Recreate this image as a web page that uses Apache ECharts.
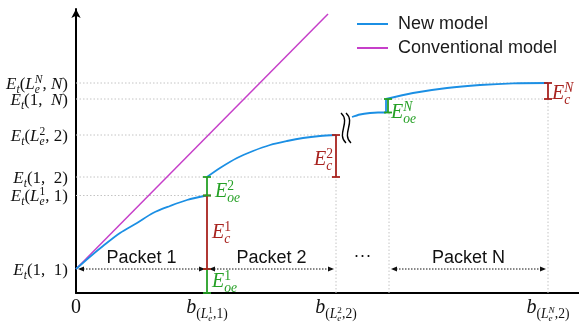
<!DOCTYPE html>
<html><head><meta charset="utf-8">
<script src="https://cdn.jsdelivr.net/npm/echarts@6/dist/echarts.min.js"></script>
<style>html,body{margin:0;padding:0;background:#fff}#c{width:579px;height:325px}</style>
</head><body><div id="c"></div>
<script>
// ---------------- data (abstract units) ----------------
const newModelPacket1   = [[0,24],[14,36.3],[27,47],[44,60],[61,70],[77,80],[94,87],[111,93],[131,97.5]];
const newModelPacket2   = [[131,116],[144,125],[161,135],[177,142],[194,148],[211,152],[227,155],[244,157],[260,158]];
const newModelAfterBreak= [[276,176],[284,178.5],[294,180],[302,180.5],[310,180.5]];
const newModelStep      = [[310,180.5],[310,194]];
const newModelPacketN   = [[310,194],[337,200],[371,205],[404,208],[437,209.7],[472,210]];
const conventionalModel = [[0,24],[252,279]];

const yTickValues = [24, 97.5, 116, 158, 194, 210];
const yTickLabels = ['E_{t}(1,  1)','E_{t}(L_{e}^{1}, 1)','E_{t}(1,  2)','E_{t}(L_{e}^{2}, 2)','E_{t}(1,  N)','E_{t}(L_{e}^{N}, N)'];
const xTickValues = [0, 131, 260, 472];
const xTickLabels = ['0','b_{(L_{e}^{1},1)}','b_{(L_{e}^{2},2)}','b_{(L_{e}^{N},2)}'];

// energy bars: [x, from, to]
const energyBars   = [[131,0,24],[131,24,97.5],[131,97.5,116],[260,116,158],[312,180.5,194],[472,194,210]];
const energyLabels = ['E_{oe}^{1}','E_{c}^{1}','E_{oe}^{2}','E_{c}^{2}','E_{oe}^{N}','E_{c}^{N}'];
const energyKinds  = ['oe','c','oe','c','oe','c'];

const packetSpans = [[0,131],[131,260],[313,472]];
const packetNames = ['Packet 1','Packet 2','Packet N'];
const packetLevel = 24;
const gapMarker = '···';

const guidesH = [[97.5,131],[116,260],[158,260],[194,472],[210,472]]; // [y, xEnd]
const guidesV = [[260,116],[313,180.5],[472,194]];                   // [x, yEnd]
const axisBreak = [270.5, 165];

// ---------------- styles ----------------
const C = {blue:'#1b8fe4', magenta:'#c63fc9', red:'#a8231f', green:'#25a025', guide:'#c4c4c4', ink:'#111'};
const SERIF = '"Liberation Serif", "Times New Roman", serif';
const SANS = '"Liberation Sans", Arial, sans-serif';
// label placement for energy bars: [align, dx, dy(baseline from bar mid)]
const energyLabelPlace = [['left',5,6],['left',5,6],['left',8,11],['right',-3,9],['left',3,12],['left',4,8]];

const ctx = document.createElement('canvas').getContext('2d');
function fontStr(size,it,fam){return (it?'italic ':'')+size+'px '+fam;}
function measure(t,size,it){ctx.font=fontStr(size,it,SERIF); return ctx.measureText(t).width;}
function baseK(fam){
  ctx.font='100px '+fam; ctx.textBaseline='alphabetic';
  const a=ctx.measureText('H').actualBoundingBoxAscent;
  ctx.textBaseline='middle';
  const b=ctx.measureText('H').actualBoundingBoxAscent;
  ctx.textBaseline='alphabetic';
  return (a-b)/100;
}
const K_SERIF = baseK(SERIF), K_SANS = baseK(SANS);

function parseMath(s){
  let i=0;
  function seq(stop){
    const out=[];
    while(i<s.length && s[i]!==stop){
      const ch=s[i];
      if(ch==='_'||ch==='^'){
        i++; let g;
        if(s[i]==='{'){ i++; g=seq('}'); i++; } else { g=[{t:s[i++]}]; }
        const last=out[out.length-1];
        if(ch==='_') last.sub=g; else last.sup=g;
      } else { out.push({t:ch}); i++; }
    }
    return out;
  }
  return seq(null);
}
function layoutMath(nodes,size,x,dy,out){
  const x0=x;
  for(const n of nodes){
    const it=/[A-Za-z]/.test(n.t);
    out.push({t:n.t,x:x,dy:dy,size:size,it:it});
    x+=measure(n.t,size,it);
    if(n.sub||n.sup){
      const ss=size*0.68; let w=0;
      if(n.sub) w=Math.max(w,layoutMath(n.sub,ss,x,dy+size*0.25,out));
      if(n.sup) w=Math.max(w,layoutMath(n.sup,ss,x,dy-size*0.34,out));
      x+=w;
    }
  }
  return x-x0;
}
function mathEls(str,size,anchorX,baseY,align,color){
  const g=[]; const w=layoutMath(parseMath(str),size,0,0,g);
  const left = align==='right'? anchorX-w : (align==='center'? anchorX-w/2 : anchorX);
  return g.filter(q=>q.t!==' ').map(q=>({type:'text',style:{text:q.t,x:left+q.x,y:baseY+q.dy-K_SERIF*q.size,
    fontSize:q.size,fontFamily:SERIF,fontStyle:q.it?'italic':'normal',fill:color,align:'left',verticalAlign:'middle'}}));
}

const blueLine = {type:'line',name:'New model',symbol:'none',showSymbol:false,smooth:0.3,
  lineStyle:{color:C.blue,width:1.8},itemStyle:{color:C.blue},z:3,silent:true};

const option = {
  animation:false,
  grid:{left:76,right:0,top:9,bottom:32},
  xAxis:{type:'value',min:0,max:503,axisLine:{lineStyle:{color:'#000',width:2}},axisTick:{show:false},axisLabel:{show:false},splitLine:{show:false}},
  yAxis:{type:'value',min:0,max:284,axisLine:{show:true,symbol:['none','arrow'],symbolSize:[7,9],lineStyle:{color:'#000',width:2}},axisTick:{show:false},axisLabel:{show:false},splitLine:{show:false}},
  legend:{orient:'vertical',left:352,top:10,icon:'rect',itemWidth:31,itemHeight:2,itemGap:6,selectedMode:false,
    textStyle:{fontFamily:SANS,fontSize:18,color:'#1a1a1a',padding:[0,0,0,5]},data:['New model','Conventional model']},
  series:[
    {type:'custom',name:'guides',clip:false,z:1,silent:true,
      data:guidesH.map(g=>[0,g[0],g[1],0]).concat(guidesV.map(g=>[g[0],0,g[0],g[1]])),
      renderItem:(p,api)=>{
        const a=api.coord([api.value(0),api.value(1)]);
        const b=api.coord([api.value(2), p.dataIndex<guidesH.length? api.value(1): api.value(3)]);
        return {type:'line',shape:{x1:a[0],y1:a[1],x2:b[0],y2:b[1]},style:{stroke:C.guide,lineWidth:1,lineDash:[1.5,2]}};
      }},
    {type:'line',name:'Conventional model',data:conventionalModel,symbol:'none',showSymbol:false,
      lineStyle:{color:C.magenta,width:1.5},itemStyle:{color:C.magenta},z:3,silent:true},
    Object.assign({},blueLine,{data:newModelPacket1}),
    Object.assign({},blueLine,{data:newModelPacket2}),
    Object.assign({},blueLine,{data:newModelAfterBreak}),
    Object.assign({},blueLine,{data:newModelStep,smooth:false}),
    Object.assign({},blueLine,{data:newModelPacketN}),
    {type:'custom',name:'bars',clip:false,z:5,silent:true,data:energyBars,
      renderItem:(p,api)=>{
        const i=p.dataIndex, x=api.value(0);
        const a=api.coord([x,api.value(1)]), b=api.coord([x,api.value(2)]);
        const col = energyKinds[i]==='c'?C.red:C.green, cap=4, lw=1.8;
        const ch=[
          {type:'line',shape:{x1:a[0],y1:a[1],x2:b[0],y2:b[1]},style:{stroke:col,lineWidth:lw}},
          {type:'line',shape:{x1:a[0]-cap,y1:a[1],x2:a[0]+cap,y2:a[1]},style:{stroke:col,lineWidth:lw}},
          {type:'line',shape:{x1:b[0]-cap,y1:b[1],x2:b[0]+cap,y2:b[1]},style:{stroke:col,lineWidth:lw}}];
        const L=energyLabelPlace[i], mid=(a[1]+b[1])/2;
        return {type:'group',children:ch.concat(mathEls(energyLabels[i],20,a[0]+L[1],mid+L[2],L[0],col))};
      }},
    {type:'custom',name:'packets',clip:false,z:4,silent:true,data:packetSpans,
      renderItem:(p,api)=>{
        const i=p.dataIndex;
        const a=api.coord([api.value(0),packetLevel]), b=api.coord([api.value(1),packetLevel]);
        const x1=a[0]+2, x2=b[0]-2, y=a[1], ah=6, aw=2.6;
        const ch=[
          {type:'line',shape:{x1:x1+2,y1:y,x2:x2-2,y2:y},style:{stroke:C.ink,lineWidth:1,lineDash:[1.5,1.5]}},
          {type:'polygon',shape:{points:[[x1,y],[x1+ah,y-aw],[x1+ah,y+aw]]},style:{fill:C.ink}},
          {type:'polygon',shape:{points:[[x2,y],[x2-ah,y-aw],[x2-ah,y+aw]]},style:{fill:C.ink}},
          {type:'text',style:{text:packetNames[i],x:(a[0]+b[0])/2,y:y-6-K_SANS*18,fontSize:18,fontFamily:SANS,fill:C.ink,align:'center',verticalAlign:'middle'}}];
        if(i===1){
          const n=api.coord([(packetSpans[1][1]+packetSpans[2][0])/2,packetLevel]);
          ch.push({type:'text',style:{text:gapMarker,x:n[0],y:y-8-K_SANS*18,fontSize:18,fontFamily:SANS,fill:C.ink,align:'center',verticalAlign:'middle'}});
        }
        return {type:'group',children:ch};
      }},
    {type:'custom',name:'break',clip:false,z:6,silent:true,data:[axisBreak],
      renderItem:(p,api)=>{
        const c=api.coord([api.value(0),api.value(1)]), t=c[1]-15, bt=c[1]+15;
        const wave=(x0)=>({type:'bezierCurve',shape:{x1:x0,y1:t,cpx1:x0+10,cpy1:t+9,cpx2:x0-5,cpy2:bt-9,x2:x0+5,y2:bt},style:{stroke:'#000',lineWidth:1.4,fill:null}});
        return {type:'group',children:[wave(c[0]-5.5),wave(c[0]-0.5)]};
      }},
    {type:'custom',name:'yLabels',clip:false,z:6,silent:true,data:yTickValues.map(v=>[0,v]),
      renderItem:(p,api)=>{
        const q=api.coord([0,api.value(1)]);
        return {type:'group',children:mathEls(yTickLabels[p.dataIndex],17,q[0]-8,q[1]+5.5,'right','#111')};
      }},
    {type:'custom',name:'xLabels',clip:false,z:6,silent:true,data:xTickValues.map(v=>[v,0]),
      renderItem:(p,api)=>{
        const q=api.coord([api.value(0),0]);
        return {type:'group',children:mathEls(xTickLabels[p.dataIndex],20,q[0],q[1]+20,'center','#111')};
      }}
  ]
};
const chart = echarts.init(document.getElementById('c'),null,{renderer:'canvas'});
chart.setOption(option);
</script></body></html>
